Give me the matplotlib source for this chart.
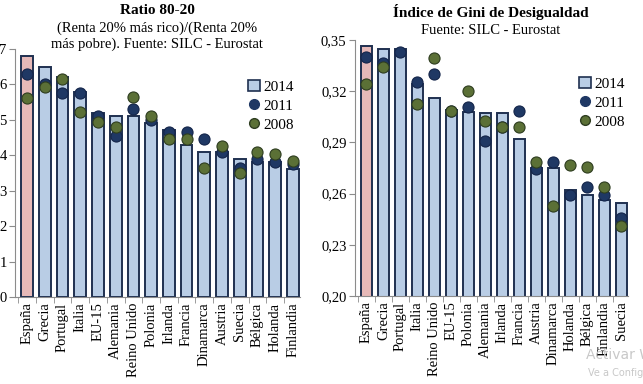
import numpy as np
import matplotlib
matplotlib.use("Agg")
import matplotlib.pyplot as plt
from matplotlib.patches import Patch
from matplotlib.lines import Line2D
from matplotlib.ticker import FuncFormatter, FixedLocator

plt.rcParams["font.family"] = ["Liberation Serif", "DejaVu Serif"]

# Ratio 80-20
paises_ratio = ["España", "Grecia", "Portugal", "Italia", "EU-15", "Alemania",
                "Reino Unido", "Polonia", "Irlanda", "Francia", "Dinamarca",
                "Austria", "Suecia", "Bélgica", "Holanda", "Finlandia"]
ratio_2014 = [6.8, 6.5, 6.2, 5.8, 5.2, 5.1, 5.1, 4.9, 4.7, 4.3, 4.1, 4.1, 3.9, 3.8, 3.8, 3.6]
ratio_2011 = [6.3, 6.0, 5.75, 5.75, 5.1, 4.55, 5.3, 5.0, 4.65, 4.65, 4.45, 4.1, 3.65, 3.9, 3.8, 3.75]
ratio_2008 = [5.63, 5.93, 6.15, 5.22, 4.95, 4.8, 5.65, 5.1, 4.45, 4.45, 3.65, 4.25, 3.5, 4.1, 4.05, 3.83]

# Indice de Gini
paises_gini = ["España", "Grecia", "Portugal", "Italia", "Reino Unido", "EU-15",
               "Polonia", "Alemania", "Irlanda", "Francia", "Austria", "Dinamarca",
               "Holanda", "Bélgica", "Finlandia", "Suecia"]
gini_2014 = [0.3465, 0.345, 0.345, 0.324, 0.316, 0.309, 0.308, 0.307, 0.307, 0.292,
             0.275, 0.275, 0.262, 0.259, 0.256, 0.2545]
gini_2011 = [0.340, 0.3365, 0.343, 0.3255, 0.330, 0.3085, 0.311, 0.291, 0.299, 0.3085,
             0.2745, 0.2785, 0.259, 0.264, 0.259, 0.2455]
gini_2008 = [0.3243, 0.3345, np.nan, 0.3125, 0.3397, 0.3085, 0.320, 0.3027, 0.299, 0.299,
             0.2785, 0.2525, 0.2765, 0.2758, 0.264, 0.2412]

azul = "#b9cde5"
rosa = "#e6b9b8"
borde = "#1f3050"
c2011 = "#1f3864"
c2008 = "#5b7036"
gris = "#8c8c8c"


def dibujar(ax, paises, v14, v11, v08, ylim, yticks, fmt):
    x = np.arange(len(paises))
    colores = [rosa] + [azul] * (len(paises) - 1)
    ax.bar(x, v14, width=0.66, color=colores, edgecolor=borde, linewidth=1.4, zorder=2)
    ax.scatter(x, v11, s=64, color=c2011, edgecolor="#14254a", linewidth=0.8, zorder=3)
    ax.scatter(x, v08, s=64, color=c2008, edgecolor="#2e3d20", linewidth=0.8, zorder=4)
    ax.set_xlim(-0.68, len(paises) - 0.6)
    ax.set_ylim(*ylim)
    ax.set_yticks(yticks)
    ax.yaxis.set_major_formatter(FuncFormatter(fmt))
    ax.set_xticks(x)
    ax.set_xticklabels(paises, rotation=90, fontsize=10.5)
    ax.xaxis.set_minor_locator(FixedLocator(np.arange(-0.5, len(paises), 1)))
    ax.tick_params(axis="x", which="major", length=0, pad=4)
    ax.tick_params(axis="x", which="minor", length=4, color=gris)
    ax.tick_params(axis="y", length=4, color=gris, labelsize=10.5, pad=2)
    for s in ["top", "right"]:
        ax.spines[s].set_visible(False)
    for s in ["left", "bottom"]:
        ax.spines[s].set_color(gris)
    handles = [Patch(facecolor=azul, edgecolor=borde, linewidth=1.2, label="2014"),
               Line2D([], [], marker="o", ls="", color=c2011, markersize=7, label="2011"),
               Line2D([], [], marker="o", ls="", color=c2008, markeredgecolor="#2e3d20",
                      markersize=7, label="2008")]
    return handles


fig = plt.figure(figsize=(6.43, 3.84), dpi=100)

ax1 = fig.add_axes([0.0233, 0.2266, 0.4433, 0.6458])
h = dibujar(ax1, paises_ratio, ratio_2014, ratio_2011, ratio_2008, (0, 7), range(0, 8),
            lambda v, p: f"{v:.0f}")
ax1.legend(handles=h, loc="upper right", bbox_to_anchor=(1.0, 0.9), frameon=False,
           fontsize=11, handlelength=0.8, handletextpad=0.2, labelspacing=0.35,
           borderaxespad=0)

ax2 = fig.add_axes([0.552, 0.229, 0.4246, 0.6667])
h = dibujar(ax2, paises_gini, gini_2014, gini_2011, gini_2008, (0.2, 0.35),
            [0.20, 0.23, 0.26, 0.29, 0.32, 0.35], lambda v, p: f"{v:.2f}".replace(".", ","))
ax2.legend(handles=h, loc="upper right", bbox_to_anchor=(1.01, 0.88), frameon=False,
           fontsize=11, handlelength=0.8, handletextpad=0.2, labelspacing=0.35,
           borderaxespad=0)

fig.text(157 / 643, 1 - 10 / 384, "Ratio 80-20", ha="center", va="center",
         fontsize=11, fontweight="bold")
fig.text(157 / 643, 1 - 36 / 384, "(Renta 20% más rico)/(Renta 20%\nmás pobre). Fuente: SILC - Eurostat",
         ha="center", va="center", fontsize=10.5, linespacing=1.25)
fig.text(491 / 643, 1 - 12 / 384, "Índice de Gini de Desigualdad", ha="center", va="center",
         fontsize=11, fontweight="bold")
fig.text(491 / 643, 1 - 30 / 384, "Fuente: SILC - Eurostat", ha="center", va="center",
         fontsize=10.5)

# marca de agua de Windows
fig.text(586 / 643, 1 - 355 / 384, "Activar W", fontsize=10, color="#c8c8c8",
         family="DejaVu Sans", va="center")
fig.text(588 / 643, 1 - 373 / 384, "Ve a Config", fontsize=7, color="#c8c8c8",
         family="DejaVu Sans", va="center")

fig.savefig("out.png", dpi=100)
